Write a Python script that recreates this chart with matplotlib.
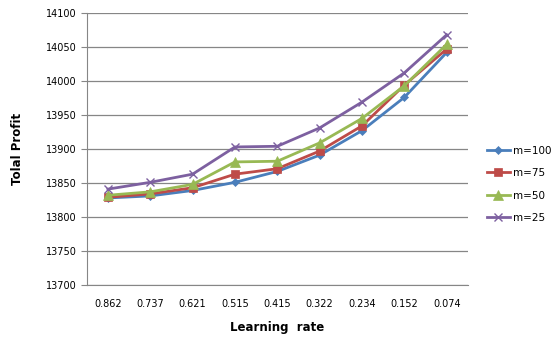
#!/usr/bin/env python3
"""Total profit vs learning rate for several m values."""
import matplotlib
matplotlib.use("Agg")
import matplotlib.pyplot as plt

learning_rates = ["0.862", "0.737", "0.621", "0.515", "0.415", "0.322", "0.234", "0.152", "0.074"]
profit_m100 = [13828, 13831, 13839, 13851, 13867, 13891, 13927, 13976, 14042]
profit_m75 = [13829, 13834, 13843, 13863, 13871, 13897, 13934, 13994, 14047]
profit_m50 = [13832, 13837, 13848, 13881, 13882, 13909, 13945, 13993, 14054]
profit_m25 = [13841, 13851, 13863, 13903, 13904, 13931, 13969, 14012, 14068]

SERIES = [
    ("m=100", profit_m100, "#4A7EBB", "D", 4),
    ("m=75", profit_m75, "#BE4B48", "s", 6),
    ("m=50", profit_m50, "#98B954", "^", 6.5),
    ("m=25", profit_m25, "#7D60A0", "x", 6),
]

fig = plt.figure(figsize=(5.57, 3.41), dpi=100)
ax = fig.add_axes([0.1557, 0.1642, 0.6843, 0.7977])

x = range(len(learning_rates))
for label, vals, color, marker, ms in SERIES:
    ax.plot(x, vals, color=color, marker=marker, markersize=ms, linewidth=2,
            markeredgewidth=1 if marker == "x" else 0.5, label=label)

ax.set_xlim(-0.5, len(learning_rates) - 0.5)
ax.set_ylim(13700, 14100)
ax.set_yticks(range(13700, 14101, 50))
ax.set_xticks(list(x))
ax.set_xticklabels(learning_rates)
ax.yaxis.grid(True, color="#868686", linewidth=0.9)
ax.set_axisbelow(True)
for side in ("top", "right"):
    ax.spines[side].set_visible(False)
ax.spines["left"].set_color("#868686")
ax.spines["bottom"].set_color("#868686")
ax.tick_params(axis="y", length=4, color="#868686", labelsize=7, pad=3)
ax.tick_params(axis="x", length=0, labelsize=7, pad=10)

ax.set_xlabel("Learning  rate", fontsize=8.5, fontweight="bold", labelpad=9)
ax.set_ylabel("Tolal Profit", fontsize=8.5, fontweight="bold", labelpad=16)

ax.legend(loc="center left", bbox_to_anchor=(1.025, 0.37), frameon=False,
          fontsize=7.5, handlelength=2.2, handletextpad=0.3, labelspacing=1.2)

fig.savefig("out.png", dpi=100)
